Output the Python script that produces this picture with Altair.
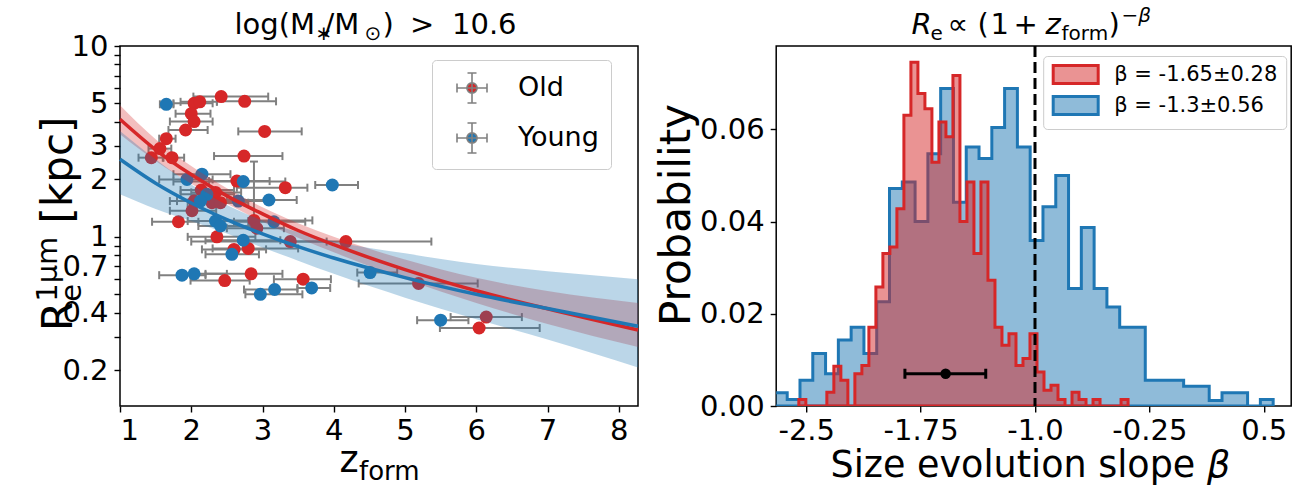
import altair as alt
import pandas as pd
import numpy as np

RED = "#d62728"
BLUE = "#1f77b4"
GRAY = "#808080"
FONT = "DejaVu Sans"

# ---------------- left panel data ----------------
old_z = [2.42, 2.75, 2.04, 2.12, 2.00, 2.04, 1.92, 3.03, 1.65, 1.56, 1.44, 1.73, 2.74,
         2.64, 3.32, 2.14, 2.34, 2.04, 2.29, 2.41, 2.01, 1.82, 2.88, 2.92, 2.36, 3.39,
         4.17, 2.60, 2.80, 2.84, 2.47, 3.57, 5.19, 6.14, 6.04]
old_r = [5.43, 5.13, 5.01, 5.10, 4.42, 4.02, 3.63, 3.57, 3.27, 2.90, 2.60, 2.60, 2.65,
         1.96, 1.81, 1.76, 1.71, 1.54, 1.51, 1.51, 1.37, 1.20, 1.22, 1.11, 1.00, 0.945,
         0.945, 0.86, 0.87, 0.64, 0.59, 0.60, 0.57, 0.38, 0.333]
old_zlo = [2.03, 2.36, 1.75, 1.85, 1.78, 1.70, 1.68, 2.66, 1.55, 1.40, 1.26, 1.60, 2.32,
           2.25, 2.64, 1.85, 2.00, 1.70, 1.95, 2.10, 1.70, 1.45, 2.40, 2.50, 1.95, 2.00,
           3.45, 2.15, 2.30, 2.20, 1.99, 3.16, 4.35, 5.64, 5.49]
old_zhi = [3.08, 3.19, 2.30, 2.36, 2.27, 2.30, 2.23, 3.55, 1.78, 1.72, 1.61, 1.90, 3.28,
           3.10, 3.63, 2.60, 2.70, 2.40, 2.75, 2.80, 2.35, 2.10, 3.70, 3.30, 2.90, 3.90,
           5.37, 3.05, 3.50, 3.28, 2.82, 3.96, 6.02, 6.64, 6.89]

young_z = [1.65, 2.15, 1.94, 2.73, 3.98, 2.22, 2.13, 2.66, 3.09, 2.34, 2.41, 3.16, 2.73,
           2.57, 1.87, 2.04, 2.97, 3.17, 3.69, 4.51, 5.50]
young_r = [4.95, 2.13, 2.00, 1.95, 1.87, 1.67, 1.54, 1.54, 1.56, 1.21, 1.14, 1.20, 0.96,
           0.81, 0.63, 0.64, 0.50, 0.53, 0.54, 0.65, 0.366]
young_zlo = [1.56, 1.75, 1.55, 1.75, 3.74, 1.85, 1.80, 2.25, 2.50, 1.95, 2.10, 2.60, 2.20,
             2.20, 1.55, 1.85, 2.76, 2.74, 3.49, 4.33, 5.17]
young_zhi = [1.75, 2.55, 2.30, 3.32, 4.34, 2.60, 2.45, 3.10, 3.48, 2.80, 2.95, 3.60, 3.25,
             2.95, 2.20, 2.50, 3.56, 3.49, 3.95, 4.89, 5.89]

# the one visible vertical error bar
yerr_z = [2.88]
yerr_lo = [1.05]
yerr_hi = [2.48]

# fitted size-evolution curves and their bands
fit_z = [1.0, 1.5, 2.0, 2.5, 3.0, 3.5, 4.0, 5.0, 6.0, 7.0, 8.27]
old_fit = [4.13, 2.86, 2.12, 1.64, 1.32, 1.08, 0.91, 0.674, 0.522, 0.420, 0.325]
old_band_lo = [3.45, 2.50, 1.90, 1.49, 1.20, 0.99, 0.83, 0.60, 0.45, 0.35, 0.265]
old_band_hi = [4.90, 3.25, 2.35, 1.80, 1.43, 1.18, 1.00, 0.76, 0.61, 0.52, 0.45]
young_fit = [2.55, 1.91, 1.505, 1.232, 1.036, 0.889, 0.775, 0.612, 0.500, 0.421, 0.34]
young_band_lo = [1.67, 1.40, 1.21, 1.04, 0.88, 0.75, 0.64, 0.48, 0.37, 0.29, 0.207]
young_band_hi = [3.59, 2.55, 1.88, 1.47, 1.22, 1.06, 0.95, 0.82, 0.72, 0.66, 0.60]

# ---------------- right panel data ----------------
L_RED = "β = -1.65±0.28"
L_BLUE = "β = -1.3±0.56"
blue_first_edge, blue_last_edge = -2.7087, 0.5617
blue_prob = [0.0029, 0.0014, 0.0056, 0.0114, 0.0070, 0.0143, 0.0171, 0.0114, 0.0226, 0.0472,
             0.0486, 0.0400, 0.0547, 0.0689, 0.0442, 0.0562, 0.0537, 0.0604, 0.0689, 0.0562,
             0.0359, 0.0432, 0.0500, 0.0255, 0.0387, 0.0255, 0.0215, 0.0171, 0.0171, 0.0056,
             0.0056, 0.0056, 0.0043, 0.0043, 0.0012, 0.0029, 0.0029, 0.0, 0.0014]
red_first_edge, red_last_edge = -2.5486, -0.3898
red_prob = [0.0014, 0.0, 0.0, 0.0, 0.0030, 0.0086, 0.0056, 0.0, 0.0070, 0.0088,
            0.0171, 0.0258, 0.0331, 0.0345, 0.0428, 0.0631, 0.0746, 0.0678, 0.0645, 0.0529,
            0.0616, 0.0584, 0.0717, 0.0400, 0.0486, 0.0331, 0.0486, 0.0273, 0.0171, 0.0132,
            0.0157, 0.0088, 0.0103, 0.0157, 0.0074, 0.0034, 0.0045, 0.0014, 0.0, 0.0030,
            0.0014, 0.0, 0.0014, 0.0, 0.0, 0.0, 0.0014]
beta_med = [-1.586]
beta_lo = [-1.853]
beta_hi = [-1.323]
beta_marker_y = [0.007]
beta_ref = [-1.0]

# ---------------- tables ----------------
pts = pd.DataFrame({
    "z": old_z + young_z,
    "r": old_r + young_r,
    "zlo": old_zlo + young_zlo,
    "zhi": old_zhi + young_zhi,
    "group": ["Old"] * len(old_z) + ["Young"] * len(young_z),
})
yerr_df = pd.DataFrame({"z": yerr_z, "rlo": yerr_lo, "rhi": yerr_hi})
old_fit_df = pd.DataFrame({"z": fit_z, "fit": old_fit, "lo": old_band_lo, "hi": old_band_hi})
young_fit_df = pd.DataFrame({"z": fit_z, "fit": young_fit, "lo": young_band_lo, "hi": young_band_hi})


def step_table(first, last, probs, label):
    edges = np.linspace(first, last, len(probs) + 1)
    xs = [edges[0]]
    ps = [0.0]
    for e, p in zip(edges[:-1], probs):
        xs.append(e)
        ps.append(p)
    xs += [edges[-1], edges[-1]]
    ps += [probs[-1], 0.0]
    return pd.DataFrame({"beta": xs, "prob": ps, "series": label})


blue_df = step_table(blue_first_edge, blue_last_edge, blue_prob, L_BLUE)
red_df = step_table(red_first_edge, red_last_edge, red_prob, L_RED)
marker_df = pd.DataFrame({"b": beta_med, "blo": beta_lo, "bhi": beta_hi, "p": beta_marker_y})
ref_df = pd.DataFrame({"beta": beta_ref})
one = pd.DataFrame({"k": [0]})

# ---------------- left panel ----------------
WL, HL = 518, 360
xsL = alt.Scale(domain=[1, 8.27], nice=False, zero=False)
ysL = alt.Scale(type="log", domain=[0.13, 10], nice=False)
y_tick_vals = [0.2, 0.3, 0.4, 0.5, 0.6, 0.7, 0.8, 0.9, 1, 2, 3, 4, 5, 6, 7, 8, 9, 10]
axXL = alt.Axis(values=[1, 2, 3, 4, 5, 6, 7, 8], format="d", title=None)
axYL = alt.Axis(values=y_tick_vals, title=None,
                labelExpr="indexof([0.2,0.4,0.7,1,2,3,5,10], datum.value) >= 0 ? '' + datum.value : ''")


def XL(f):
    return alt.X(f, type="quantitative", scale=xsL, axis=axXL)


def YL(f):
    return alt.Y(f, type="quantitative", scale=ysL, axis=axYL)


CROSS = ("M-1,0H1M-1,-0.3V0.3M1,-0.3V0.3M0,-1V1M-0.3,-1H0.3M-0.3,1H0.3"
         "M0.34,0A0.34,0.34,0,1,1,-0.34,0A0.34,0.34,0,1,1,0.34,0Z")
legL = alt.Legend(title=None, orient="none", legendX=312, legendY=14, symbolType=CROSS,
                  symbolSize=900, symbolStrokeWidth=1.6, labelFontSize=27, labelFont=FONT,
                  labelOffset=30, rowPadding=12, padding=12, symbolOffset=12, labelLimit=300,
                  strokeColor="#cccccc", fillColor="white", cornerRadius=4)
grp_dom = ["Old", "Young"]

xbars = alt.Chart(pts).mark_rule(strokeWidth=2).encode(
    x=XL("zlo"), x2="zhi", y=YL("r"),
    stroke=alt.Stroke("group:N", scale=alt.Scale(domain=grp_dom, range=[GRAY, GRAY]), legend=legL))
capl = alt.Chart(pts).mark_point(shape="M0,-1L0,1", size=64, strokeWidth=2, color=GRAY,
                                 filled=False, opacity=1).encode(x=XL("zlo"), y=YL("r"))
capr = alt.Chart(pts).mark_point(shape="M0,-1L0,1", size=64, strokeWidth=2, color=GRAY,
                                 filled=False, opacity=1).encode(x=XL("zhi"), y=YL("r"))
ybar = alt.Chart(yerr_df).mark_rule(strokeWidth=2, color=GRAY).encode(x=XL("z"), y=YL("rlo"), y2="rhi")
ycap = alt.Chart(yerr_df).mark_point(shape="M-1,0L1,0", size=64, strokeWidth=2, color=GRAY,
                                     filled=False, opacity=1).encode(x=XL("z"), y=YL("rhi"))
dots = alt.Chart(pts).mark_point(shape="circle", size=169, filled=True, opacity=1, strokeWidth=0).encode(
    x=XL("z"), y=YL("r"),
    fill=alt.Fill("group:N", scale=alt.Scale(domain=grp_dom, range=[RED, BLUE]), legend=legL))
band_old = alt.Chart(old_fit_df).mark_area(color=RED, opacity=0.3, interpolate="monotone").encode(
    x=XL("z"), y=YL("lo"), y2="hi")
band_young = alt.Chart(young_fit_df).mark_area(color=BLUE, opacity=0.3, interpolate="monotone").encode(
    x=XL("z"), y=YL("lo"), y2="hi")
line_old = alt.Chart(old_fit_df).mark_line(color=RED, strokeWidth=3.5, interpolate="monotone").encode(
    x=XL("z"), y=YL("fit"))
line_young = alt.Chart(young_fit_df).mark_line(color=BLUE, strokeWidth=3.5, interpolate="monotone").encode(
    x=XL("z"), y=YL("fit"))


def txt(s, x, y, size, angle=0, style="normal", align="left"):
    return alt.Chart(one).mark_text(text=s, fontSize=size, angle=angle, fontStyle=style, align=align,
                                    baseline="alphabetic", font=FONT, color="black").encode(
        x=alt.value(x), y=alt.value(y))


left_text = [
    txt("log(M", 114.5, -12, 29), txt("∗", 195.5, -6, 20), txt("/M", 204.5, -12, 29),
    txt("⊙", 244.5, -6, 20), txt(")", 262.5, -12, 29), txt(">", 290, -12, 29),
    txt("10.6", 332, -12, 29),
    txt("R", -48, 285, 42, angle=270), txt("e", -39, 255.8, 29, angle=270),
    txt("1μm", -63, 255.8, 29, angle=270), txt("[kpc]", -48, 177.4, 42, angle=270),
    txt("z", 219.5, 426, 36.5), txt("form", 239, 434, 26),
]
anchor = alt.Chart(one).mark_rule(strokeWidth=1, opacity=0).encode(
    x=alt.value(-119), x2=alt.value(-119), y=alt.value(-44.5), y2=alt.value(-44))

left = alt.layer(xbars, capl, capr, ybar, ycap, dots, band_old, band_young, line_old, line_young,
                 *left_text, anchor).properties(width=WL, height=HL)

# ---------------- right panel ----------------
WR, HR = 515, 360
xsR = alt.Scale(domain=[-2.697, 0.68], nice=False, zero=False)
ysR = alt.Scale(domain=[0, 0.0781], nice=False)
axXR = alt.Axis(values=[-2.5, -1.75, -1.0, -0.25, 0.5], title=None,
                labelExpr="datum.value == -2.5 ? '-2.5' : datum.value == -1.75 ? '-1.75' : "
                          "datum.value == -1 ? '-1.0' : datum.value == -0.25 ? '-0.25' : '0.5'")
axYR = alt.Axis(values=[0, 0.02, 0.04, 0.06], format=".2f", title=None)


def XR(f):
    return alt.X(f, type="quantitative", scale=xsR, axis=axXR)


def YR(f):
    return alt.Y(f, type="quantitative", scale=ysR, axis=axYR, stack=None)


legR = alt.Legend(title=None, orient="none", legendX=267, legendY=10,
                  symbolType="M-2.5,-1H2.5V1H-2.5Z", symbolSize=324, symbolStrokeWidth=3,
                  labelFontSize=21, labelFont=FONT, labelOffset=28, rowPadding=0, padding=8,
                  symbolOffset=14, labelLimit=400, strokeColor="#cccccc", fillColor="white",
                  cornerRadius=4)
ser_dom = [L_RED, L_BLUE]
fill_enc = alt.Fill("series:N", scale=alt.Scale(domain=ser_dom,
                    range=["rgba(214,39,40,0.5)", "rgba(31,119,180,0.5)"]), legend=legR)
stroke_enc = alt.Stroke("series:N", scale=alt.Scale(domain=ser_dom, range=[RED, BLUE]), legend=legR)

hist_blue = alt.Chart(blue_df).mark_area(interpolate="step-after", strokeWidth=3, clip=True).encode(
    x=XR("beta"), y=YR("prob"), fill=fill_enc, stroke=stroke_enc)
hist_red = alt.Chart(red_df).mark_area(interpolate="step-after", strokeWidth=3, clip=True).encode(
    x=XR("beta"), y=YR("prob"), fill=fill_enc, stroke=stroke_enc)
vline = alt.Chart(ref_df).mark_rule(color="black", strokeWidth=3, strokeDash=[11, 5]).encode(x=XR("beta"))
ebar = alt.Chart(marker_df).mark_rule(color="black", strokeWidth=3).encode(x=XR("blo"), x2="bhi", y=YR("p"))
ecap1 = alt.Chart(marker_df).mark_point(shape="M0,-1L0,1", size=100, strokeWidth=3, color="black",
                                        filled=False, opacity=1).encode(x=XR("blo"), y=YR("p"))
ecap2 = alt.Chart(marker_df).mark_point(shape="M0,-1L0,1", size=100, strokeWidth=3, color="black",
                                        filled=False, opacity=1).encode(x=XR("bhi"), y=YR("p"))
edot = alt.Chart(marker_df).mark_point(shape="circle", size=110, filled=True, color="black",
                                       opacity=1).encode(x=XR("b"), y=YR("p"))

right_text = [
    txt("R", 135.3, -12, 29, style="italic"), txt("e", 154.3, -6, 20),
    txt("∝", 171.3, -12, 29), txt("(", 201.3, -12, 29), txt("1", 214.3, -12, 29),
    txt("+", 237.3, -12, 29), txt("z", 269.3, -12, 29, style="italic"),
    txt("form", 285.3, -6, 20), txt(")", 332.3, -12, 29),
    txt("−", 345.3, -24, 20), txt("β", 362.1, -24, 20, style="italic"),
    txt("Probability", -86, 169, 42, angle=270, align="center"),
    txt("Size evolution slope", 54.3, 431, 36.5), txt("β", 430.8, 431, 36.5, style="italic"),
]

right = alt.layer(hist_blue, hist_red, vline, ebar, ecap1, ecap2, edot, *right_text).properties(
    width=WR, height=HR)

chart = alt.hconcat(left, right, spacing=138.2, bounds="flush").resolve_scale(
    fill="independent", stroke="independent"
).resolve_legend(
    fill="independent", stroke="independent"
).properties(padding=0).configure_view(
    stroke="black", strokeWidth=1.5
).configure_axis(
    domain=False, grid=False, labelFont=FONT, labelFontSize=29, labelColor="black",
    tickColor="black", tickWidth=1.4, tickSize=6, labelPadding=4
).configure_axisY(labelPadding=6)

chart.save("out.html", embed_options={"renderer": "svg", "actions": False})
